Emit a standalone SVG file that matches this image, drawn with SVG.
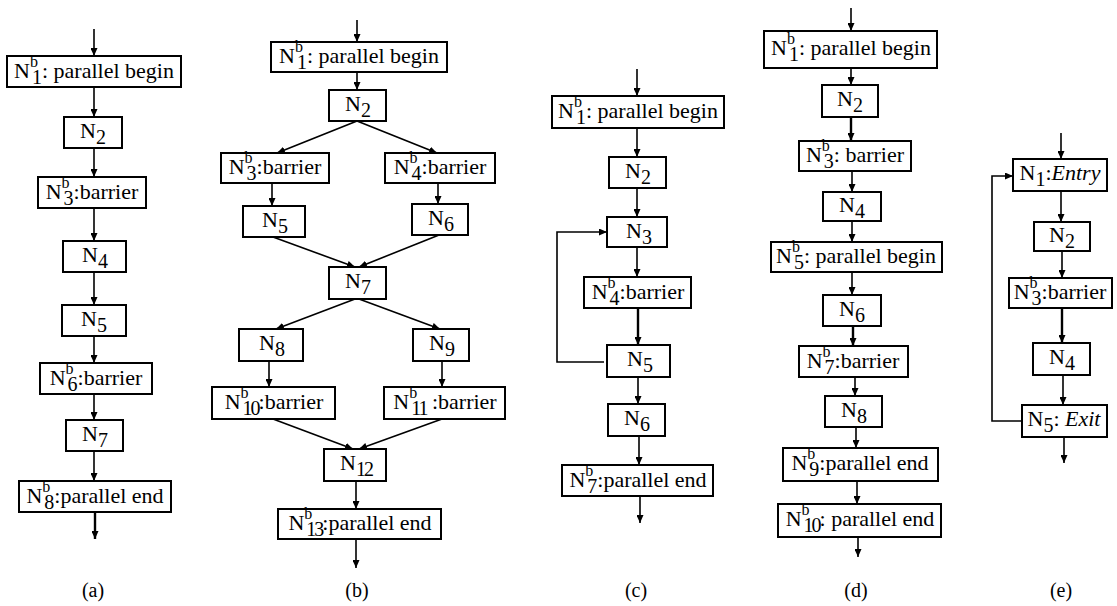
<svg xmlns="http://www.w3.org/2000/svg" width="1117" height="606" viewBox="0 0 1117 606">
<style>
.box{fill:#fff;stroke:#000;stroke-width:2}
.t{font-family:"Liberation Serif","Times New Roman",serif;font-size:22px;fill:#000;text-anchor:middle}
.sup{font-size:16px}
.sub{font-size:20px}
.sub2{font-size:20px;letter-spacing:-2px}
.it{font-style:italic}
.lbl{font-family:"Liberation Serif","Times New Roman",serif;font-size:20px;fill:#000;text-anchor:middle}
.e{fill:none;stroke:#000;stroke-width:1.6;marker-end:url(#ah)}
.k{stroke-width:2.4}
</style>
<defs>
<marker id="ah" markerUnits="userSpaceOnUse" markerWidth="9" markerHeight="7" refX="8" refY="3.5" orient="auto">
<path d="M0,0 L8,3.5 L0,7 z" fill="#000"/>
</marker>
</defs>
<rect width="1117" height="606" fill="#fff"/>
<g id="connectors">
<!-- (a) -->
<path class="e" d="M94,29 V56"/>
<path class="e" d="M94,87 V117"/>
<path class="e" d="M94,148 V177"/>
<path class="e" d="M94,208 V241"/>
<path class="e" d="M94,272 V305"/>
<path class="e" d="M94,336 V363"/>
<path class="e" d="M94,394 V420"/>
<path class="e" d="M94,451 V481"/>
<path class="e k" d="M95,512 V539"/>
<!-- (b) -->
<path class="e" d="M357,20 V42"/>
<path class="e" d="M357,72 V90"/>
<path class="e" d="M357,121 L277,153"/>
<path class="e" d="M357,121 L437,153"/>
<path class="e" d="M272,183 V206"/>
<path class="e" d="M438,183 V204"/>
<path class="e" d="M273,237 L355,267"/>
<path class="e" d="M439,235 L359,267"/>
<path class="e" d="M355,299 L276,329"/>
<path class="e" d="M359,299 L440,329"/>
<path class="e" d="M269,361 V387"/>
<path class="e" d="M442,361 V387"/>
<path class="e" d="M273,419 L353,449"/>
<path class="e" d="M442,419 L359,449"/>
<path class="e" d="M356,481 V509"/>
<path class="e" d="M356,539 V568"/>
<!-- (c) -->
<path class="e" d="M637,69 V96"/>
<path class="e" d="M637,128 V157"/>
<path class="e" d="M637,188 V217"/>
<path class="e" d="M604,362 H557 V232 H607"/>
<path class="e" d="M637,247 V277"/>
<path class="e k" d="M638,308 V345"/>
<path class="e" d="M638,377 V404"/>
<path class="e" d="M639,436 V465"/>
<path class="e" d="M640,496 V523"/>
<!-- (d) -->
<path class="e" d="M851,8 V31"/>
<path class="e" d="M851,68 V85"/>
<path class="e k" d="M851,117 V141"/>
<path class="e" d="M852,171 V192"/>
<path class="e" d="M852,221 V242"/>
<path class="e" d="M852,272 V295"/>
<path class="e k" d="M853,326 V346"/>
<path class="e" d="M855,377 V396"/>
<path class="e" d="M856,427 V448"/>
<path class="e" d="M857,481 V504"/>
<path class="e" d="M858,537 V557"/>
<!-- (e) -->
<path class="e" d="M1061,133 V159"/>
<path class="e" d="M1061,191 V222"/>
<path class="e" d="M1062,251 V278"/>
<path class="e k" d="M1062,308 V343"/>
<path class="e" d="M1063,375 V405"/>
<path class="e" d="M1064,437 V463"/>
<path class="e" d="M1022,421 H992 V176 H1013"/>
</g>

<!-- column (a) -->
<g id="a1"><rect class="box" x="7" y="56" width="174" height="31"/><text class="t" x="94" y="78">N<tspan class="sup" dy="-11">b</tspan><tspan class="sub" dx="-6" dy="17">1</tspan><tspan dy="-6">: parallel begin</tspan></text></g>
<g id="a2"><rect class="box" x="64" y="117" width="58" height="31"/><text class="t" x="93" y="138">N<tspan class="sub" dy="6">2</tspan></text></g>
<g id="a3"><rect class="box" x="38" y="177" width="108" height="31"/><text class="t" x="92" y="199">N<tspan class="sup" dy="-11">b</tspan><tspan class="sub" dx="-6" dy="17">3</tspan><tspan dy="-6">:barrier</tspan></text></g>
<g id="a4"><rect class="box" x="63" y="241" width="63" height="31"/><text class="t" x="95" y="262">N<tspan class="sub" dy="6">4</tspan></text></g>
<g id="a5"><rect class="box" x="62" y="305" width="64" height="31"/><text class="t" x="94" y="326">N<tspan class="sub" dy="6">5</tspan></text></g>
<g id="a6"><rect class="box" x="40" y="363" width="112" height="31"/><text class="t" x="96" y="385">N<tspan class="sup" dy="-11">b</tspan><tspan class="sub" dx="-6" dy="17">6</tspan><tspan dy="-6">:barrier</tspan></text></g>
<g id="a7"><rect class="box" x="66" y="420" width="57" height="31"/><text class="t" x="95" y="441">N<tspan class="sub" dy="6">7</tspan></text></g>
<g id="a8"><rect class="box" x="19" y="481" width="152" height="31"/><text class="t" x="95" y="503">N<tspan class="sup" dy="-11">b</tspan><tspan class="sub" dx="-6" dy="17">8</tspan><tspan dy="-6">:parallel end</tspan></text></g>
<text class="lbl" x="93" y="597">(a)</text>

<!-- column (b) -->
<g id="b1"><rect class="box" x="271" y="42" width="176" height="30"/><text class="t" x="359" y="63">N<tspan class="sup" dy="-11">b</tspan><tspan class="sub" dx="-6" dy="17">1</tspan><tspan dy="-6">: parallel begin</tspan></text></g>
<g id="b2"><rect class="box" x="329" y="90" width="57" height="31"/><text class="t" x="358" y="111">N<tspan class="sub" dy="6">2</tspan></text></g>
<g id="b3"><rect class="box" x="221" y="153" width="108" height="30"/><text class="t" x="275" y="174">N<tspan class="sup" dy="-11">b</tspan><tspan class="sub" dx="-6" dy="17">3</tspan><tspan dy="-6">:barrier</tspan></text></g>
<g id="b4"><rect class="box" x="385" y="153" width="110" height="30"/><text class="t" x="440" y="174">N<tspan class="sup" dy="-11">b</tspan><tspan class="sub" dx="-6" dy="17">4</tspan><tspan dy="-6">:barrier</tspan></text></g>
<g id="b5"><rect class="box" x="243" y="206" width="62" height="31"/><text class="t" x="275" y="227">N<tspan class="sub" dy="6">5</tspan></text></g>
<g id="b6"><rect class="box" x="412" y="204" width="56" height="31"/><text class="t" x="441" y="225">N<tspan class="sub" dy="6">6</tspan></text></g>
<g id="b7"><rect class="box" x="329" y="267" width="57" height="32"/><text class="t" x="358" y="288">N<tspan class="sub" dy="6">7</tspan></text></g>
<g id="b8"><rect class="box" x="239" y="329" width="64" height="32"/><text class="t" x="272" y="350">N<tspan class="sub" dy="6">8</tspan></text></g>
<g id="b9"><rect class="box" x="413" y="329" width="56" height="32"/><text class="t" x="442" y="350">N<tspan class="sub" dy="6">9</tspan></text></g>
<g id="b10"><rect class="box" x="212" y="387" width="123" height="32"/><text class="t" x="274" y="409">N<tspan class="sup" dy="-11">b</tspan><tspan class="sub2" dx="-6" dy="17">10</tspan><tspan dy="-6">:barrier</tspan></text></g>
<g id="b11"><rect class="box" x="384" y="387" width="121" height="32"/><text class="t" x="445" y="409">N<tspan class="sup" dy="-11">b</tspan><tspan class="sub2" dx="-6" dy="17">11</tspan><tspan dy="-6"> :barrier</tspan></text></g>
<g id="b12"><rect class="box" x="324" y="449" width="62" height="32"/><text class="t" x="356" y="470">N<tspan class="sub2" dy="6">12</tspan></text></g>
<g id="b13"><rect class="box" x="278" y="509" width="163" height="30"/><text class="t" x="360" y="530">N<tspan class="sup" dy="-11">b</tspan><tspan class="sub2" dx="-6" dy="17">13</tspan><tspan dy="-6">:parallel end</tspan></text></g>
<text class="lbl" x="357" y="597">(b)</text>

<!-- column (c) -->
<g id="c1"><rect class="box" x="552" y="96" width="172" height="32"/><text class="t" x="638" y="118">N<tspan class="sup" dy="-11">b</tspan><tspan class="sub" dx="-6" dy="17">1</tspan><tspan dy="-6">: parallel begin</tspan></text></g>
<g id="c2"><rect class="box" x="609" y="157" width="57" height="31"/><text class="t" x="638" y="178">N<tspan class="sub" dy="6">2</tspan></text></g>
<g id="c3"><rect class="box" x="607" y="217" width="60" height="30"/><text class="t" x="639" y="238">N<tspan class="sub" dy="6">3</tspan></text></g>
<g id="c4"><rect class="box" x="584" y="277" width="107" height="31"/><text class="t" x="638" y="299">N<tspan class="sup" dy="-11">b</tspan><tspan class="sub" dx="-6" dy="17">4</tspan><tspan dy="-6">:barrier</tspan></text></g>
<g id="c5"><rect class="box" x="607" y="345" width="63" height="32"/><text class="t" x="640" y="366">N<tspan class="sub" dy="6">5</tspan></text></g>
<g id="c6"><rect class="box" x="608" y="404" width="57" height="32"/><text class="t" x="637" y="425">N<tspan class="sub" dy="6">6</tspan></text></g>
<g id="c7"><rect class="box" x="562" y="465" width="151" height="31"/><text class="t" x="638" y="487">N<tspan class="sup" dy="-11">b</tspan><tspan class="sub" dx="-6" dy="17">7</tspan><tspan dy="-6">:parallel end</tspan></text></g>
<text class="lbl" x="636" y="597">(c)</text>

<!-- column (d) -->
<g id="d1"><rect class="box" x="764" y="31" width="173" height="37"/><text class="t" x="851" y="55">N<tspan class="sup" dy="-11">b</tspan><tspan class="sub" dx="-6" dy="17">1</tspan><tspan dy="-6">: parallel begin</tspan></text></g>
<g id="d2"><rect class="box" x="822" y="85" width="56" height="32"/><text class="t" x="850" y="106">N<tspan class="sub" dy="6">2</tspan></text></g>
<g id="d3"><rect class="box" x="799" y="141" width="112" height="30"/><text class="t" x="855" y="162">N<tspan class="sup" dy="-11">b</tspan><tspan class="sub" dx="-6" dy="17">3</tspan><tspan dy="-6">: barrier</tspan></text></g>
<g id="d4"><rect class="box" x="823" y="192" width="58" height="29"/><text class="t" x="852" y="212">N<tspan class="sub" dy="6">4</tspan></text></g>
<g id="d5"><rect class="box" x="771" y="242" width="171" height="30"/><text class="t" x="856" y="263">N<tspan class="sup" dy="-11">b</tspan><tspan class="sub" dx="-6" dy="17">5</tspan><tspan dy="-6">: parallel begin</tspan></text></g>
<g id="d6"><rect class="box" x="823" y="295" width="58" height="31"/><text class="t" x="852" y="316">N<tspan class="sub" dy="6">6</tspan></text></g>
<g id="d7"><rect class="box" x="799" y="346" width="109" height="31"/><text class="t" x="853" y="368">N<tspan class="sup" dy="-11">b</tspan><tspan class="sub" dx="-6" dy="17">7</tspan><tspan dy="-6">:barrier</tspan></text></g>
<g id="d8"><rect class="box" x="825" y="396" width="57" height="31"/><text class="t" x="854" y="417">N<tspan class="sub" dy="6">8</tspan></text></g>
<g id="d9"><rect class="box" x="783" y="448" width="155" height="33"/><text class="t" x="860" y="470">N<tspan class="sup" dy="-11">b</tspan><tspan class="sub" dx="-6" dy="17">9</tspan><tspan dy="-6">:parallel end</tspan></text></g>
<g id="d10"><rect class="box" x="778" y="504" width="163" height="33"/><text class="t" x="860" y="526">N<tspan class="sup" dy="-11">b</tspan><tspan class="sub2" dx="-6" dy="17">10</tspan><tspan dy="-6">: parallel end</tspan></text></g>
<text class="lbl" x="856" y="597">(d)</text>

<!-- column (e) -->
<g id="e1"><rect class="box" x="1013" y="159" width="94" height="32"/><text class="t" x="1060" y="180">N<tspan class="sub" dy="6">1</tspan><tspan dy="-6">:</tspan><tspan class="it">Entry</tspan></text></g>
<g id="e2"><rect class="box" x="1034" y="222" width="56" height="29"/><text class="t" x="1062" y="242">N<tspan class="sub" dy="6">2</tspan></text></g>
<g id="e3"><rect class="box" x="1009" y="278" width="103" height="30"/><text class="t" x="1060" y="299">N<tspan class="sup" dy="-11">b</tspan><tspan class="sub" dx="-6" dy="17">3</tspan><tspan dy="-6">:barrier</tspan></text></g>
<g id="e4"><rect class="box" x="1033" y="343" width="57" height="32"/><text class="t" x="1062" y="364">N<tspan class="sub" dy="6">4</tspan></text></g>
<g id="e5"><rect class="box" x="1022" y="405" width="85" height="32"/><text class="t" x="1064" y="426">N<tspan class="sub" dy="6">5</tspan><tspan dy="-6">: </tspan><tspan class="it">Exit</tspan></text></g>
<text class="lbl" x="1061" y="597">(e)</text>
</svg>
